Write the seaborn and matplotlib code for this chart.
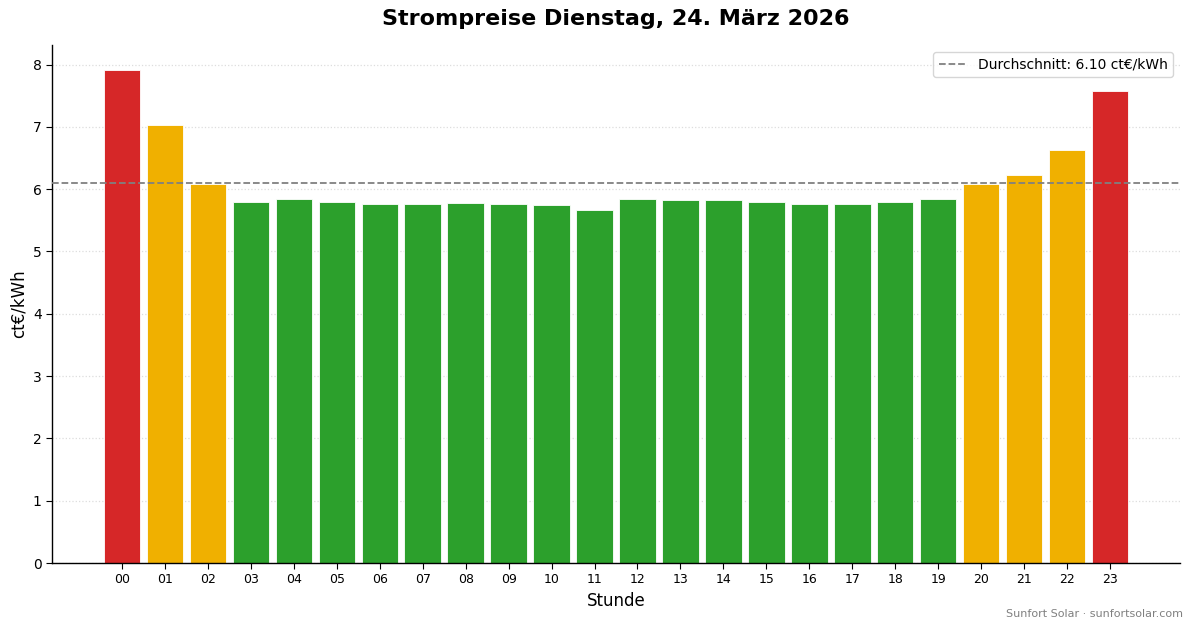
import matplotlib
matplotlib.use("Agg")
import matplotlib.pyplot as plt
import seaborn as sns
import pandas as pd

hours = ["00", "01", "02", "03", "04", "05", "06", "07", "08", "09", "10", "11",
         "12", "13", "14", "15", "16", "17", "18", "19", "20", "21", "22", "23"]
prices = [7.92, 7.03, 6.09, 5.80, 5.84, 5.80, 5.77, 5.77, 5.78, 5.77, 5.75, 5.67,
          5.85, 5.82, 5.82, 5.80, 5.77, 5.77, 5.80, 5.85, 6.09, 6.22, 6.63, 7.58]
levels = ["hoch", "mittel", "mittel", "niedrig", "niedrig", "niedrig", "niedrig", "niedrig",
          "niedrig", "niedrig", "niedrig", "niedrig", "niedrig", "niedrig", "niedrig", "niedrig",
          "niedrig", "niedrig", "niedrig", "niedrig", "mittel", "mittel", "mittel", "hoch"]
average = 6.10

palette = {"niedrig": "#2ca02c", "mittel": "#f0b000", "hoch": "#d62728"}

sns.set_style("white")
plt.rcParams['font.family'] = ['DejaVu Sans']
plt.rcParams['text.color'] = 'black'
plt.rcParams['axes.labelcolor'] = 'black'
plt.rcParams['xtick.color'] = 'black'
plt.rcParams['ytick.color'] = 'black'

df = pd.DataFrame({"Stunde": hours, "Preis": prices, "Stufe": levels})

fig = plt.figure(figsize=(11.93, 6.28), dpi=100)
ax = fig.add_axes([0.0436, 0.1035, 0.9455, 0.825])

sns.barplot(data=df, x="Stunde", y="Preis", hue="Stufe", palette=palette,
            dodge=False, legend=False, width=0.85, edgecolor="white", linewidth=0.6,
            saturation=1, ax=ax)

ax.axhline(average, color="gray", linestyle="--", linewidth=1.3,
           label=f"Durchschnitt: {average:.2f} ct€/kWh", zorder=3)

ax.set_xlim(-1.63, 24.63)
ax.set_ylim(0, max(prices) * 1.05)
ax.set_yticks(range(0, 9))
ax.yaxis.grid(True, linestyle=":", color="#dddddd", linewidth=0.9)
ax.set_axisbelow(True)
ax.spines["top"].set_visible(False)
ax.spines["right"].set_visible(False)
for s in ("left", "bottom"):
    ax.spines[s].set_color("black")
    ax.spines[s].set_linewidth(1.0)
ax.tick_params(axis="x", labelsize=9, length=4, color="black", bottom=True)
ax.tick_params(axis="y", labelsize=10, length=4, color="black", left=True)

ax.set_xlabel("Stunde", fontsize=12)
ax.set_ylabel("ct€/kWh", fontsize=12)
ax.set_title("Strompreise Dienstag, 24. März 2026", fontsize=16, fontweight="bold", pad=14)
ax.legend(loc="upper right", fontsize=10, frameon=True)

fig.text(0.992, 0.015, "Sunfort Solar · sunfortsolar.com", ha="right", va="bottom",
         fontsize=8, color="gray")

fig.savefig("out.png", dpi=100)
